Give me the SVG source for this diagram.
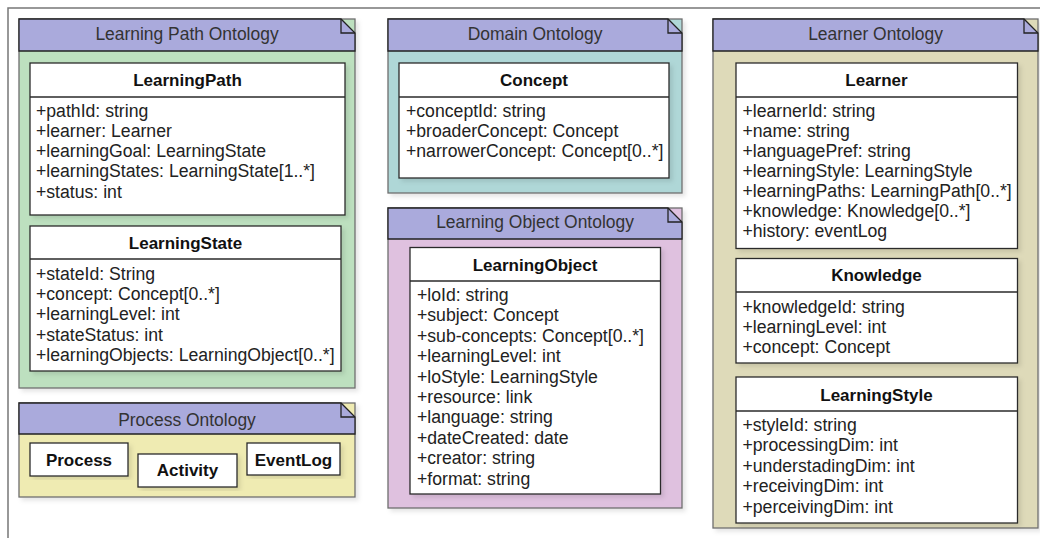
<svg xmlns="http://www.w3.org/2000/svg" width="1040" height="538" viewBox="0 0 1040 538">
  <defs>
    <filter id="shadow" x="-5%" y="-5%" width="115%" height="115%">
      <feDropShadow dx="3" dy="3" stdDeviation="2" flood-color="#000" flood-opacity="0.1"/>
    </filter>
  </defs>
  <style>
    .frame { fill: none; stroke: #777; stroke-width: 1.5; }
    .body { stroke: #6f6f6f; stroke-width: 1.3; filter: url(#shadow); }
    .lp { fill: #bde0bf; }
    .dom { fill: #afd7d7; }
    .lo { fill: #dfc1df; }
    .lrn { fill: #dedab9; }
    .proc { fill: #efebb2; }
    .hdr { fill: #aaaadc; stroke: #222; stroke-width: 1.3; }
    .fold { fill: none; stroke: #222; stroke-width: 1.3; }
    .cls { fill: #fff; stroke: #2a2a2a; stroke-width: 1.3; filter: url(#shadow); }
    .sep { stroke: #2a2a2a; stroke-width: 1.3; }
    .ptitle { font-family: "Liberation Sans", Arial, sans-serif; font-size: 17.45px; fill: #333; text-anchor: middle; }
    .cname { font-family: "Liberation Sans", Arial, sans-serif; font-size: 17px; font-weight: bold; fill: #111; text-anchor: middle; }
    .attr { font-family: "Liberation Sans", Arial, sans-serif; font-size: 17.65px; fill: #222; }
  </style>

  <!-- outer frame edges -->
  <path class="frame" d="M8,538 V8 H1040"/>

  <!-- Learning Path Ontology package -->
  <g id="pkg-learning-path">
    <rect class="body lp" x="19" y="19" width="336" height="369"/>
    <polygon class="hdr" points="19,19 341,19 355,33 355,51 19,51"/>
    <path class="fold" d="M341,19 V33 H355"/>
    <text class="ptitle" x="187" y="39.5">Learning Path Ontology</text>
  </g>
  <g id="cls-learning-path">
    <rect class="cls" x="30" y="63" width="315" height="152"/>
    <line class="sep" x1="30" y1="97" x2="345" y2="97"/>
    <text class="cname" x="187.5" y="86">LearningPath</text>
    <text class="attr" x="36" y="116.5">+pathId: string</text>
    <text class="attr" x="36" y="136.8">+learner: Learner</text>
    <text class="attr" x="36" y="157.1">+learningGoal: LearningState</text>
    <text class="attr" x="36" y="177.4">+learningStates: LearningState[1..*]</text>
    <text class="attr" x="36" y="197.7">+status: int</text>
  </g>
  <g id="cls-learning-state">
    <rect class="cls" x="30" y="226" width="311" height="145"/>
    <line class="sep" x1="30" y1="259" x2="341" y2="259"/>
    <text class="cname" x="185.5" y="248.7">LearningState</text>
    <text class="attr" x="36" y="279.5">+stateId: String</text>
    <text class="attr" x="36" y="299.9">+concept: Concept[0..*]</text>
    <text class="attr" x="36" y="320.3">+learningLevel: int</text>
    <text class="attr" x="36" y="340.7">+stateStatus: int</text>
    <text class="attr" x="36" y="361.1">+learningObjects: LearningObject[0..*]</text>
  </g>

  <!-- Process Ontology package -->
  <g id="pkg-process">
    <rect class="body proc" x="19" y="403" width="336" height="94"/>
    <polygon class="hdr" points="19,403 341,403 355,417 355,434 19,434"/>
    <path class="fold" d="M341,403 V417 H355"/>
    <text class="ptitle" x="187" y="425.5">Process Ontology</text>
  </g>
  <g id="cls-process">
    <rect class="cls" x="30" y="443" width="98" height="33"/>
    <text class="cname" x="79" y="465.5">Process</text>
  </g>
  <g id="cls-activity">
    <rect class="cls" x="138" y="454" width="99" height="33"/>
    <text class="cname" x="187.5" y="476">Activity</text>
  </g>
  <g id="cls-eventlog">
    <rect class="cls" x="247" y="443" width="93" height="32"/>
    <text class="cname" x="293.5" y="465.5">EventLog</text>
  </g>

  <!-- Domain Ontology package -->
  <g id="pkg-domain">
    <rect class="body dom" x="388" y="19" width="294" height="174"/>
    <polygon class="hdr" points="388,19 668,19 682,33 682,51 388,51"/>
    <path class="fold" d="M668,19 V33 H682"/>
    <text class="ptitle" x="535" y="39.5">Domain Ontology</text>
  </g>
  <g id="cls-concept">
    <rect class="cls" x="399" y="63" width="270" height="115"/>
    <line class="sep" x1="399" y1="97" x2="669" y2="97"/>
    <text class="cname" x="534" y="86">Concept</text>
    <text class="attr" x="406" y="116.5">+conceptId: string</text>
    <text class="attr" x="406" y="136.8">+broaderConcept: Concept</text>
    <text class="attr" x="406" y="157.1">+narrowerConcept: Concept[0..*]</text>
  </g>

  <!-- Learning Object Ontology package -->
  <g id="pkg-learning-object">
    <rect class="body lo" x="388" y="208" width="294" height="300"/>
    <polygon class="hdr" points="388,208 668,208 682,222 682,239 388,239"/>
    <path class="fold" d="M668,208 V222 H682"/>
    <text class="ptitle" x="535" y="228">Learning Object Ontology</text>
  </g>
  <g id="cls-learning-object">
    <rect class="cls" x="410" y="247.5" width="250.5" height="246.5"/>
    <line class="sep" x1="410" y1="281" x2="660.5" y2="281"/>
    <text class="cname" x="535" y="270.5">LearningObject</text>
    <text class="attr" x="417" y="301">+loId: string</text>
    <text class="attr" x="417" y="321.4">+subject: Concept</text>
    <text class="attr" x="417" y="341.8">+sub-concepts: Concept[0..*]</text>
    <text class="attr" x="417" y="362.2">+learningLevel: int</text>
    <text class="attr" x="417" y="382.6">+loStyle: LearningStyle</text>
    <text class="attr" x="417" y="403">+resource: link</text>
    <text class="attr" x="417" y="423.4">+language: string</text>
    <text class="attr" x="417" y="443.8">+dateCreated: date</text>
    <text class="attr" x="417" y="464.2">+creator: string</text>
    <text class="attr" x="417" y="484.6">+format: string</text>
  </g>

  <!-- Learner Ontology package -->
  <g id="pkg-learner">
    <rect class="body lrn" x="713" y="19" width="325" height="509"/>
    <polygon class="hdr" points="713,19 1024,19 1038,33 1038,51 713,51"/>
    <path class="fold" d="M1024,19 V33 H1038"/>
    <text class="ptitle" x="875.5" y="39.5">Learner Ontology</text>
  </g>
  <g id="cls-learner">
    <rect class="cls" x="736" y="63" width="281.5" height="185.5"/>
    <line class="sep" x1="736" y1="97" x2="1017.5" y2="97"/>
    <text class="cname" x="876.5" y="86">Learner</text>
    <text class="attr" x="742.5" y="116.5">+learnerId: string</text>
    <text class="attr" x="742.5" y="136.5">+name: string</text>
    <text class="attr" x="742.5" y="156.5">+languagePref: string</text>
    <text class="attr" x="742.5" y="176.5">+learningStyle: LearningStyle</text>
    <text class="attr" x="742.5" y="196.5">+learningPaths: LearningPath[0..*]</text>
    <text class="attr" x="742.5" y="216.5">+knowledge: Knowledge[0..*]</text>
    <text class="attr" x="742.5" y="236.5">+history: eventLog</text>
  </g>
  <g id="cls-knowledge">
    <rect class="cls" x="736" y="258.5" width="281.5" height="104.5"/>
    <line class="sep" x1="736" y1="292" x2="1017.5" y2="292"/>
    <text class="cname" x="876.5" y="281">Knowledge</text>
    <text class="attr" x="742.5" y="312.7">+knowledgeId: string</text>
    <text class="attr" x="742.5" y="332.9">+learningLevel: int</text>
    <text class="attr" x="742.5" y="353.2">+concept: Concept</text>
  </g>
  <g id="cls-learning-style">
    <rect class="cls" x="736" y="377" width="281.5" height="146"/>
    <line class="sep" x1="736" y1="411" x2="1017.5" y2="411"/>
    <text class="cname" x="876.5" y="401">LearningStyle</text>
    <text class="attr" x="742.5" y="431">+styleId: string</text>
    <text class="attr" x="742.5" y="451.4">+processingDim: int</text>
    <text class="attr" x="742.5" y="471.8">+understadingDim: int</text>
    <text class="attr" x="742.5" y="492.2">+receivingDim: int</text>
    <text class="attr" x="742.5" y="512.6">+perceivingDim: int</text>
  </g>

  <!-- no connectors are drawn between the packages -->
  <g id="connectors"/>
</svg>
